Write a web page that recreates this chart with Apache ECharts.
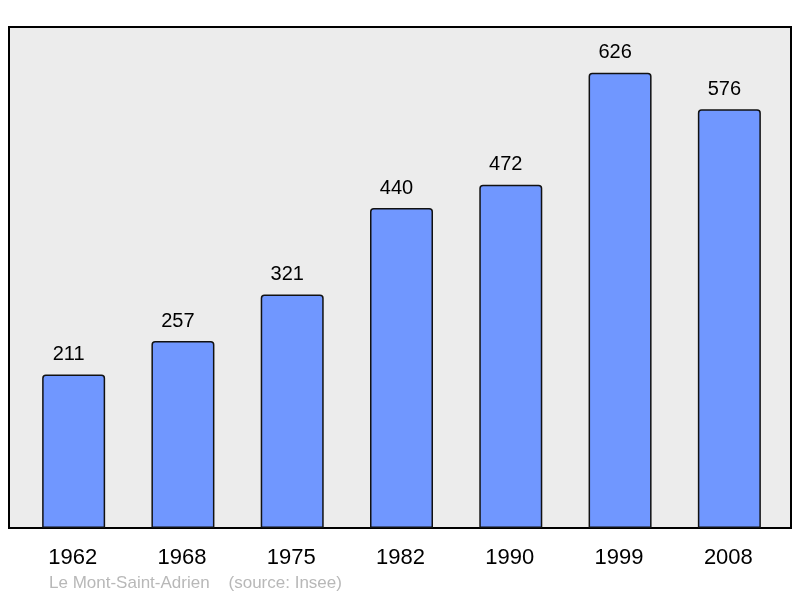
<!DOCTYPE html>
<html><head><meta charset="utf-8">
<script src="https://cdn.jsdelivr.net/npm/echarts@6/dist/echarts.min.js"></script>
<style>html,body{margin:0;padding:0;background:#fff}#c{width:800px;height:598px}</style>
</head><body><div id="c"></div>
<script>
const years = ['1962','1968','1975','1982','1990','1999','2008'];
const population = [211,257,321,440,472,626,576];
const footer = 'Le Mont-Saint-Adrien    (source: Insee)';

const chart = echarts.init(document.getElementById('c'), null, {renderer:'canvas'});
chart.setOption({
  animation:false,
  backgroundColor:'#ffffff',
  grid:[
    {left:9, right:9, top:27, bottom:70, show:true, backgroundColor:'#ececec', borderColor:'#000', borderWidth:2, z:0},
    {left:19, right:16, top:27, bottom:70}
  ],
  xAxis:[
    {gridIndex:0, type:'value', show:false, min:0, max:1},
    {gridIndex:1, type:'category', data:years,
     axisLine:{show:false}, axisTick:{show:false},
     axisLabel:{fontSize:22, color:'#000', fontFamily:'Liberation Sans, Arial, sans-serif', margin:19, padding:[0,2,0,0]}}
  ],
  yAxis:[
    {gridIndex:0, type:'value', show:false, min:0, max:1},
    {gridIndex:1, type:'value', min:0, max:689, show:false, splitLine:{show:false}}
  ],
  series:[{
    type:'bar', xAxisIndex:1, yAxisIndex:1, data:population, barWidth:63,
    itemStyle:{color:'#7097ff', borderColor:'#111', borderWidth:1.5, borderRadius:[3,3,0,0]},
    label:{show:true, position:'top', distance:10, offset:[-5,0], fontSize:20, color:'#000', fontFamily:'Liberation Sans, Arial, sans-serif'}
  }],
  graphic:[{type:'text', left:49, top:575, style:{text:footer, fontSize:17, fill:'#b8b8b8', fontFamily:'Liberation Sans, Arial, sans-serif'}}]
});
</script></body></html>
